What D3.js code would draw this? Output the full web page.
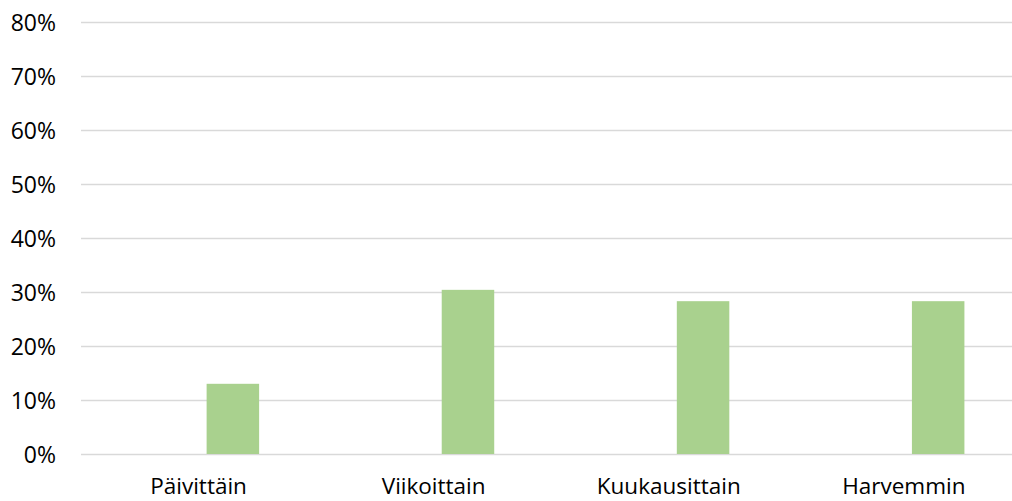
<!DOCTYPE html>
<html>
<head>
<meta charset="utf-8">
<script src="https://cdn.jsdelivr.net/npm/d3@7/dist/d3.min.js"></script>
<style>
  html, body { margin: 0; padding: 0; background: #fff; }
  svg { display: block; }
  text { font-family: "Open Sans", Lato, sans-serif; fill: #000; }
</style>
</head>
<body>
<svg id="chart" width="1012" height="501"></svg>
<script>
// Vastausten jakauma: kuinka usein
const categories = ["Päivittäin", "Viikoittain", "Kuukausittain", "Harvemmin"];
const values = [0.13, 0.304, 0.283, 0.283];
const yTicks = [0, 0.1, 0.2, 0.3, 0.4, 0.5, 0.6, 0.7, 0.8];

const svg = d3.select("#chart");
const W = 1012, H = 501;
const plot = { left: 81, right: 1021.4, top: 22, bottom: 454 };

const x = d3.scaleBand()
  .domain(categories)
  .range([plot.left, plot.right])
  .padding(0);

// the bar sits in the right-hand slot of a two-slot cluster
const slot = d3.scaleBand()
  .domain(["a", "b"])
  .range([0, x.bandwidth()])
  .paddingInner(0)
  .paddingOuter(1.239)
  .align(0.562);

const y = d3.scaleLinear()
  .domain([0, 0.8])
  .range([plot.bottom, plot.top]);

svg.append("defs").append("clipPath").attr("id", "area")
  .append("rect").attr("x", 0).attr("y", 0).attr("width", W).attr("height", H);

const g = svg.append("g").attr("clip-path", "url(#area)");

// horizontal gridlines and the y tick labels
const yAxis = d3.axisLeft(y)
  .tickValues(yTicks)
  .tickFormat(d3.format(".0%"))
  .tickSize(-(plot.right - plot.left))
  .tickPadding(25);

const ya = g.append("g")
  .attr("transform", `translate(${plot.left},0)`)
  .call(yAxis);
ya.select(".domain").remove();
ya.selectAll(".tick line")
  .attr("stroke", "#d9d9d9")
  .attr("stroke-width", 1.6);
ya.selectAll(".tick text")
  .attr("font-size", 23)
  .attr("dy", "0.35em");

// bars
g.append("g")
  .selectAll("rect")
  .data(categories.map((c, i) => ({ c, v: values[i] })))
  .join("rect")
  .attr("x", d => x(d.c) + slot("b"))
  .attr("width", slot.bandwidth())
  .attr("y", d => y(d.v))
  .attr("height", d => y(0) - y(d.v))
  .attr("fill", "#a9d18e");

// category labels, baseline just above the bottom edge
const xAxis = d3.axisBottom(x).tickSize(0).tickPadding(0);
const xa = g.append("g")
  .attr("transform", `translate(0,${plot.bottom})`)
  .call(xAxis);
xa.select(".domain").remove();
xa.selectAll(".tick text")
  .attr("font-size", 22.5)
  .attr("y", 40)
  .attr("dy", 0);
</script>
</body>
</html>
